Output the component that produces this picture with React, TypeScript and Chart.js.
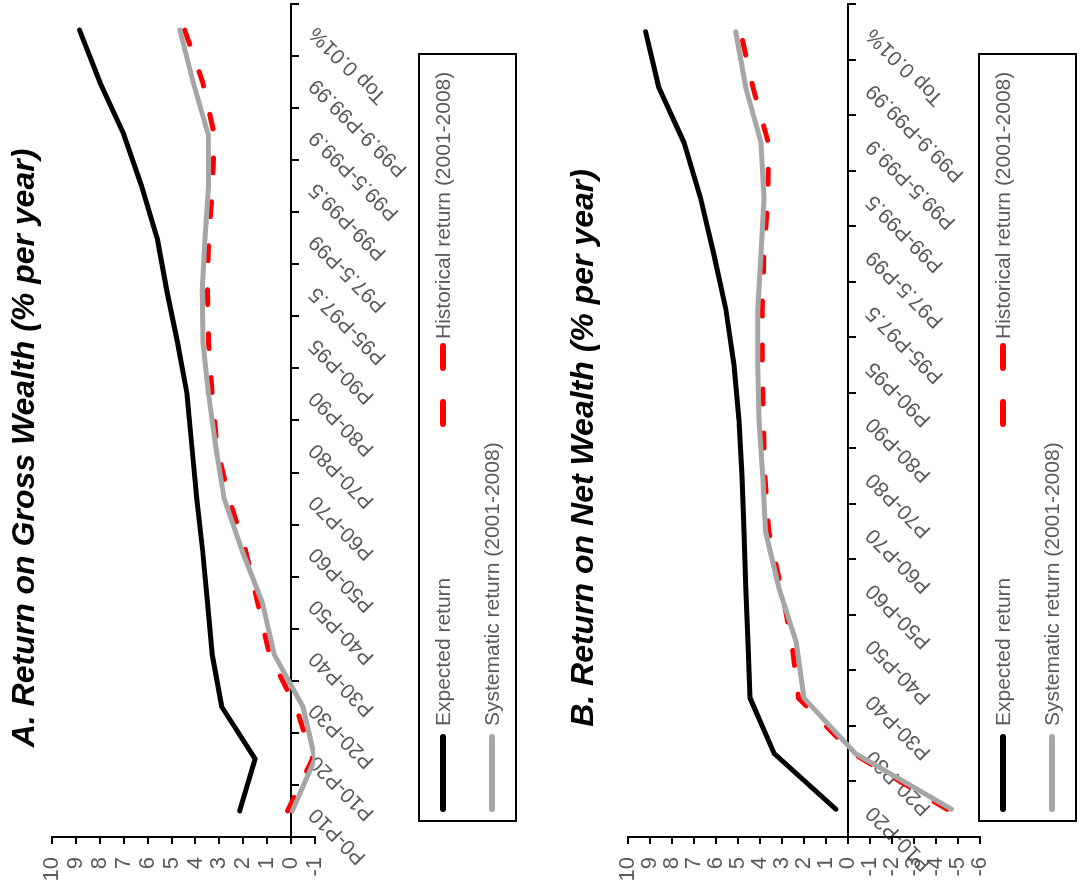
import React, { useEffect, useRef } from 'react';
import { Chart, registerables } from 'chart.js';

Chart.register(...registerables);

const FONT = "'Liberation Sans', Arial, Helvetica, sans-serif";

const categoriesA = [
  'P0-P10', 'P10-P20', 'P20-P30', 'P30-P40', 'P40-P50', 'P50-P60', 'P60-P70', 'P70-P80',
  'P80-P90', 'P90-P95', 'P95-P97.5', 'P97.5-P99', 'P99-P99.5', 'P99.5-P99.9', 'P99.9-P99.99', 'Top 0.01%',
];
const categoriesB = [
  'P10-P20', 'P20-P30', 'P30-P40', 'P40-P50', 'P50-P60', 'P60-P70', 'P70-P80',
  'P80-P90', 'P90-P95', 'P95-P97.5', 'P97.5-P99', 'P99-P99.5', 'P99.5-P99.9', 'P99.9-P99.99', 'Top 0.01%',
];

const expectedA = [2.15, 1.5, 2.9, 3.3, 3.5, 3.7, 3.95, 4.15, 4.35, 4.75, 5.2, 5.6, 6.25, 7.0, 8.0, 8.85];
const systematicA = [-0.05, -1.0, -0.5, 0.7, 1.2, 2.05, 2.8, 3.15, 3.45, 3.68, 3.72, 3.6, 3.45, 3.47, 4.1, 4.65];
const historicalA = [0.15, -0.9, -0.2, 0.9, 1.4, 1.9, 2.6, 3.1, 3.3, 3.45, 3.5, 3.45, 3.28, 3.22, 3.7, 4.45];

const expectedB = [0.55, 3.35, 4.45, 4.55, 4.65, 4.73, 4.82, 4.95, 5.18, 5.55, 6.1, 6.7, 7.45, 8.6, 9.2];
const systematicB = [-4.7, -0.35, 2.0, 2.35, 3.15, 3.75, 3.88, 4.05, 4.1, 4.1, 3.95, 3.82, 3.95, 4.65, 5.1];
const historicalB = [-4.5, -0.25, 2.25, 2.55, 3.05, 3.6, 3.78, 3.85, 3.9, 3.9, 3.82, 3.64, 3.62, 4.32, 4.88];

const seriesLabels = ['Expected return', 'Systematic return (2001-2008)', 'Historical return (2001-2008)'];
const seriesColors = ['#000000', '#A6A6A6', '#FF0000'];

const valueRangeA = [-1, 10];
const valueRangeB = [-6, 10];

type PanelProps = {
  title: string;
  categories: string[];
  expected: number[];
  systematic: number[];
  historical: number[];
  range: number[];
  height: number;
  titleGap: number;
  padBottom: number;
  legendTop: number;
};

function LegendLine({ color, dashed }: { color: string; dashed?: boolean }) {
  return (
    <svg width={84} height={12} style={{ display: 'block', flex: '0 0 auto' }}>
      <line
        x1={3}
        y1={6}
        x2={dashed ? 81 : 75}
        y2={6}
        stroke={color}
        strokeWidth={6}
        strokeLinecap="round"
        strokeDasharray={dashed ? '22 34' : undefined}
      />
    </svg>
  );
}

function Panel(p: PanelProps) {
  const ref = useRef<HTMLCanvasElement | null>(null);

  useEffect(() => {
    if (!ref.current) return;
    const common = {
      pointRadius: 0,
      pointHoverRadius: 0,
      borderWidth: 5,
      tension: 0,
      borderCapStyle: 'round' as const,
      borderJoinStyle: 'round' as const,
      fill: false,
    };
    const chart = new Chart(ref.current, {
      type: 'line',
      data: {
        labels: p.categories,
        datasets: [
          { ...common, label: seriesLabels[0], data: p.expected, borderColor: seriesColors[0], backgroundColor: seriesColors[0], order: 0 },
          { ...common, label: seriesLabels[1], data: p.systematic, borderColor: seriesColors[1], backgroundColor: seriesColors[1], order: 1 },
          { ...common, label: seriesLabels[2], data: p.historical, borderColor: seriesColors[2], backgroundColor: seriesColors[2], borderDash: [15, 29], order: 2 },
        ],
      },
      options: {
        responsive: false,
        animation: false,
        events: [],
        layout: { padding: { top: 0, left: 0, right: 4, bottom: p.padBottom } },
        plugins: {
          legend: { display: false },
          tooltip: { enabled: false },
          title: {
            display: true,
            text: p.title,
            color: '#000000',
            font: { family: FONT, size: 32, weight: 'bold', style: 'italic' },
            padding: { top: 6, bottom: p.titleGap },
          },
        },
        scales: {
          x: {
            type: 'category',
            position: { y: 0 },
            offset: true,
            grid: { offset: true, drawOnChartArea: false, drawTicks: true, tickLength: 7, color: '#000000', lineWidth: 2 },
            border: { display: true, color: '#000000', width: 2 },
            ticks: {
              autoSkip: false,
              minRotation: 45,
              maxRotation: 45,
              color: '#595959',
              font: { family: FONT, size: 21 },
              padding: 6,
            },
            afterFit: (s: any) => { s.height = 0; },
          },
          y: {
            type: 'linear',
            position: 'left',
            min: p.range[0],
            max: p.range[1],
            ticks: { stepSize: 1, autoSkip: false, color: '#595959', font: { family: FONT, size: 22 }, padding: 13 },
            grid: { drawOnChartArea: false, drawTicks: true, tickLength: 7, color: '#000000', lineWidth: 2 },
            border: { display: true, color: '#000000', width: 2 },
            afterFit: (s: any) => { s.width = 55; },
          },
        },
      },
    } as any);
    return () => chart.destroy();
  }, []);

  const textStyle: React.CSSProperties = {
    fontFamily: FONT,
    fontSize: 21,
    color: '#595959',
    whiteSpace: 'nowrap',
    marginLeft: 2,
    lineHeight: '24px',
  };
  const entry = (left: number, top: number): React.CSSProperties => ({
    position: 'absolute',
    left,
    top: top - 14,
    height: 28,
    display: 'flex',
    alignItems: 'center',
  });

  return (
    <div style={{ position: 'relative', width: 892, height: p.height }}>
      <canvas ref={ref} width={892} height={p.height} style={{ display: 'block' }} />
      <div
        style={{
          position: 'absolute',
          left: 70,
          top: p.legendTop,
          width: 769,
          height: 99,
          border: '2px solid #000000',
          boxSizing: 'border-box',
          background: 'transparent',
        }}
      />
      <div style={entry(80, p.legendTop + 25)}>
        <LegendLine color={seriesColors[0]} />
        <span style={textStyle}>{seriesLabels[0]}</span>
      </div>
      <div style={entry(465, p.legendTop + 25)}>
        <LegendLine color={seriesColors[2]} dashed />
        <span style={{ ...textStyle, marginLeft: 4 }}>{seriesLabels[2]}</span>
      </div>
      <div style={entry(80, p.legendTop + 74)}>
        <LegendLine color={seriesColors[1]} />
        <span style={textStyle}>{seriesLabels[1]}</span>
      </div>
    </div>
  );
}

export default function App() {
  useEffect(() => {
    document.body.style.margin = '0';
    document.body.style.overflow = 'hidden';
  }, []);
  return (
    <div
      style={{
        position: 'fixed',
        left: 0,
        top: 0,
        width: 892,
        height: 1088,
        background: '#ffffff',
        transformOrigin: '0 0',
        transform: 'translate(0px, 892px) rotate(-90deg)',
      }}
    >
      <div style={{ position: 'absolute', left: 0, top: 0 }}>
        <Panel
          title="A. Return on Gross Wealth (% per year)"
          categories={categoriesA}
          expected={expectedA}
          systematic={systematicA}
          historical={historicalA}
          range={valueRangeA}
          height={544}
          titleGap={7.6}
          padBottom={229}
          legendTop={418}
        />
      </div>
      <div style={{ position: 'absolute', left: 0, top: 559 }}>
        <Panel
          title="B. Return on Net Wealth (% per year)"
          categories={categoriesB}
          expected={expectedB}
          systematic={systematicB}
          historical={historicalB}
          range={valueRangeB}
          height={529}
          titleGap={24.6}
          padBottom={108}
          legendTop={419}
        />
      </div>
    </div>
  );
}
